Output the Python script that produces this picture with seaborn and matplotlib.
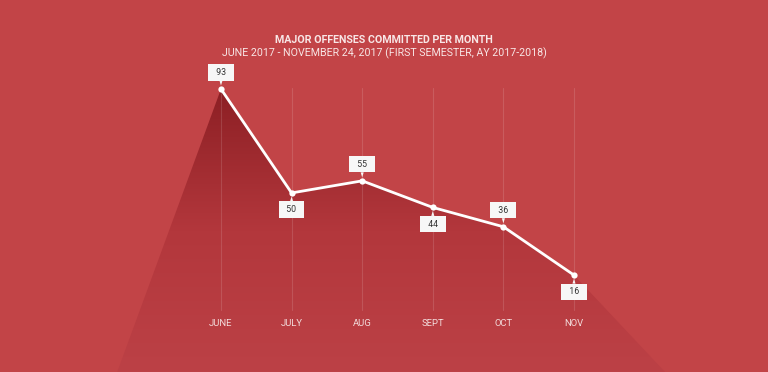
import numpy as np
import matplotlib
matplotlib.use("Agg")
import matplotlib.pyplot as plt
import seaborn as sns
from matplotlib.path import Path
from matplotlib.patches import PathPatch
from matplotlib.colors import LinearSegmentedColormap

months = ["JUNE", "JULY", "AUG", "SEPT", "OCT", "NOV"]
offenses = [93, 50, 55, 44, 36, 16]
label_above = [True, False, True, False, True, False]

title = "MAJOR OFFENSES COMMITTED PER MONTH"
subtitle = "JUNE 2017 - NOVEMBER 24, 2017 (FIRST SEMESTER, AY 2017-2018)"

bg = "#c24447"

sns.set_theme(style="white")
plt.rcParams["font.family"] = ["Roboto", "DejaVu Sans"]

fig = plt.figure(figsize=(7.68, 3.72), dpi=100)
fig.patch.set_facecolor(bg)
ax = fig.add_axes([0, 0, 1, 1])
ax.set_facecolor(bg)

x = np.arange(len(months))
ax.set_xlim(-3.13, 7.748)
ax.set_ylim(-24.1, 129.84)

# vertical guides, faint, drawn over the shaded area
for xi in x:
    ax.plot([xi, xi], [1.5, 93.5], color="white", alpha=0.13, lw=0.8, zorder=3)

# shaded mountain under the line, extended to the bottom edge
y0 = -24.1
verts = [(-1.47, y0)] + list(zip(x, offenses)) + [(6.29, y0), (-1.47, y0)]
codes = [Path.MOVETO] + [Path.LINETO] * (len(verts) - 2) + [Path.CLOSEPOLY]
patch = PathPatch(Path(verts, codes), facecolor="none", edgecolor="none")
ax.add_patch(patch)
cmap = LinearSegmentedColormap.from_list("fade", ["#bc4146", "#b3373c", "#8c1f24"])
grad = np.linspace(0, 1, 256).reshape(-1, 1)
im = ax.imshow(grad, cmap=cmap, aspect="auto", origin="lower",
               extent=[-1.47, 6.29, y0, 93], zorder=2)
im.set_clip_path(patch)

sns.lineplot(x=x, y=offenses, ax=ax, color="white", lw=2, marker="o",
             markersize=4.5, markeredgewidth=0, zorder=4)

for xi, v, up in zip(x, offenses, label_above):
    dy = 12 if up else -12
    ax.annotate(f"  {v}  ", xy=(xi, v), xytext=(0, dy), textcoords="offset points",
                ha="center", va="center", fontsize=6.3, color="#333333", zorder=5,
                bbox=dict(boxstyle="square,pad=0.42", fc="#f7f7f7", ec="none"),
                arrowprops=dict(arrowstyle="wedge,tail_width=0.35,shrink_factor=0.5",
                                fc="#f7f7f7", ec="none", shrinkA=0, shrinkB=2.5))

for xi, m in zip(x, months):
    ax.text(xi, -4, m, ha="center", va="center", fontsize=6.8,
            color="#f3dcdc", fontstretch="condensed")

fig.text(0.5, 1 - 40 / 372, title, ha="center", va="center", fontsize=7.7,
         fontweight="bold", color="#f8e6e6")
fig.text(0.5, 1 - 53 / 372, subtitle, ha="center", va="center", fontsize=7.7,
         color="#f8e6e6")

ax.axis("off")
fig.savefig("out.png", dpi=100, facecolor=bg)
